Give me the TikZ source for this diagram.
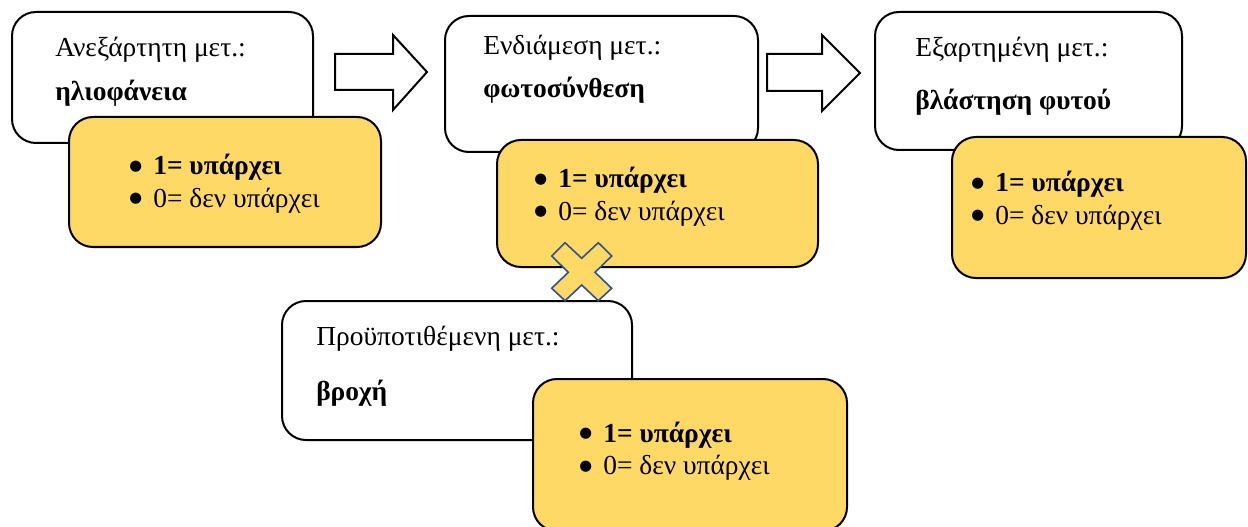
\documentclass[tikz,border=0pt]{standalone}
\usepackage{fontspec}
\setmainfont{Liberation Serif}
\newfontfamily\dotfont{DejaVu Sans}
\usetikzlibrary{fit}
\definecolor{gold}{HTML}{FFD966}
\definecolor{crossblue}{HTML}{2F528F}
\newcommand\bul{\makebox[13.5pt][l]{\hspace{-4.5pt}\raisebox{3.2pt}{\dotfont\fontsize{11}{11}\selectfont ●}}}
\newcommand\vallist{\begin{tabular}[t]{@{}l@{}}\bul\bfseries 1= υπάρχει\\ \bul 0= δεν υπάρχει\end{tabular}}
\begin{document}
\begin{tikzpicture}[x=0.75pt,y=-0.75pt,
  box/.style={draw=black, line width=1.5pt, rounded corners=18pt, inner sep=0pt, fit={#1}},
  wbox/.style={box={#1}, fill=white},
  ybox/.style={box={#1}, fill=gold},
  lbl/.style={anchor=base west, inner sep=0pt, font=\fontsize{20.6}{24.2}\selectfont},
  blockarrow/.style={draw=black, line width=1.5pt, fill=white, line join=miter},
  crossmark/.style={draw=crossblue, line width=1.2pt, fill=gold, line join=miter}]
\useasboundingbox[fill=white] (0,0) rectangle (1248,527);

% box 1
\node[wbox={(12,12) (313,143)}] (b1) {};
\node[lbl] (t1) at (55,57) {Ανεξάρτητη μετ.:};
\node[lbl] (v1) at (55,101) {\bfseries ηλιοφάνεια};
\node[ybox={(69,117) (381,247)}] (y1) {};
\node[lbl] (l1) at (135,175) {\vallist};

% box 2
\node[wbox={(445,16) (758,152)}] (b2) {};
\node[lbl] (t2) at (483,55) {Ενδιάμεση μετ.:};
\node[lbl] (v2) at (483,98) {\bfseries φωτοσύνθεση};
\node[ybox={(497,140) (818,267)}] (y2) {};
\node[lbl] (l2) at (540,188) {\vallist};

% box 3
\node[wbox={(875,12) (1182,150)}] (b3) {};
\node[lbl] (t3) at (915,57) {Εξαρτημένη μετ.:};
\node[lbl] (v3) at (915,110) {\bfseries βλάστηση φυτού};
\node[ybox={(952,137) (1246,278)}] (y3) {};
\node[lbl] (l3) at (977,192) {\vallist};

% box 4
\node[wbox={(282,301) (632,440)}] (b4) {};
\node[lbl] (t4) at (316,345) {Προϋποτιθέμενη μετ.:};
\node[lbl] (v4) at (316,400) {\bfseries βροχή};
\node[ybox={(533,379) (847,531)}] (y4) {};
\node[lbl] (l4) at (585,442) {\vallist};

% block arrows
\draw[blockarrow] (335,54) -- (393,54) -- (393,35) -- (427,72) -- (393,110) -- (393,90) -- (335,90) -- cycle;
\draw[blockarrow] (767,54) -- (822,54) -- (822,35) -- (860,73) -- (822,111) -- (822,91) -- (767,91) -- cycle;

% cross
\draw[crossmark] (551.7,256) -- (565,242.7) -- (581.7,258.3) -- (598.3,242.7) -- (611.7,256)
  -- (595,272.3) -- (611.7,288.3) -- (598.3,300.7) -- (581.7,285) -- (565,300.7)
  -- (551.7,288.3) -- (568.3,272.3) -- cycle;
\end{tikzpicture}
\end{document}
